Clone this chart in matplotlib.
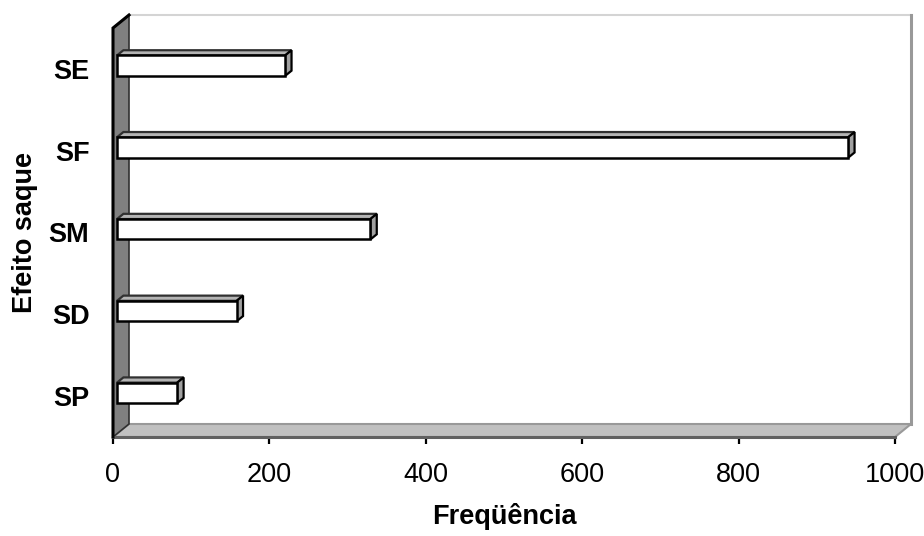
import matplotlib
matplotlib.use("Agg")
from matplotlib import pyplot as plt
from matplotlib.patches import Polygon

# dados
categorias = ["SP", "SD", "SM", "SF", "SE"]
frequencias = [77, 153, 324, 935, 215]
xticks = [0, 200, 400, 600, 800, 1000]

W, H = 924, 536
fig = plt.figure(figsize=(W / 100, H / 100), dpi=100)
# area do grafico em pixels: frente do piso y=437, topo da parede y=28
ax = fig.add_axes([113 / W, (H - 437) / H, 782 / W, 409 / H])
ax.set_xlim(0, 1000)
ax.set_ylim(-0.5, 4.5)
for s in ax.spines.values():
    s.set_visible(False)
ax.patch.set_alpha(0)

# conversao pixel -> unidades de dados
ux = 1000 / 782
uy = 5 / 409
DX, DY = 16 * ux, 13 * uy        # profundidade do "3D"
x0, x1 = 0, 1000
y0, y1 = -0.5, 4.5

def poly(pts, fc, ec, lw, z):
    ax.add_patch(Polygon(pts, closed=True, fc=fc, ec=ec, lw=lw,
                         clip_on=False, zorder=z, joinstyle="miter"))

# parede do fundo
ax.plot([x0 + DX, x1 + DX], [y1 + DY, y1 + DY], color="#d4d4d4", lw=1.5,
        clip_on=False, zorder=1)
ax.plot([x1 + DX, x1 + DX], [y0 + DY, y1 + DY], color="#999999", lw=2.2,
        clip_on=False, zorder=1)

# piso
poly([(x0, y0), (x1, y0), (x1 + DX, y0 + DY), (x0 + DX, y0 + DY)],
     "#c0c0c0", "#999999", 1.5, 2)
ax.plot([x0, x1], [y0, y0], color="#606060", lw=2.2, clip_on=False, zorder=3)

# parede lateral
poly([(x0, y0), (x0, y1), (x0 + DX, y1 + DY), (x0 + DX, y0 + DY)],
     "#808080", "#303030", 1.2, 2)
ax.plot([x0, x0, x0 + DX], [y0, y1, y1 + DY], color="black", lw=2.2,
        clip_on=False, zorder=3, solid_joinstyle="miter")

# barras
d0, d1 = 0.25, 0.65
h = 0.25
for i, v in enumerate(frequencias):
    fx = x0 + d0 * DX
    fy = i + d0 * DY - h / 2
    bx = (d1 - d0) * DX
    by = (d1 - d0) * DY
    # topo
    poly([(fx, fy + h), (fx + v, fy + h), (fx + v + bx, fy + h + by),
          (fx + bx, fy + h + by)], "#b4b4b4", "#303030", 1.6, 4)
    # lado
    poly([(fx + v, fy), (fx + v + bx, fy + by), (fx + v + bx, fy + h + by),
          (fx + v, fy + h)], "#a0a0a0", "black", 1.6, 4)
    # frente
    poly([(fx, fy), (fx + v, fy), (fx + v, fy + h), (fx, fy + h)],
         "white", "black", 1.8, 5)

ax.set_xticks(xticks)
ax.set_xticklabels([str(t) for t in xticks], fontsize=19.5,
                   family="Liberation Sans")
ax.tick_params(axis="x", direction="out", length=5, width=1.6, pad=13,
               color="black")
ax.set_yticks(range(len(categorias)))
ax.set_yticklabels(categorias, fontsize=19.5, fontweight="bold",
                   family="Liberation Sans")
ax.tick_params(axis="y", length=0, pad=17)

ax.set_xlabel("Freqüência", fontsize=19.5, fontweight="bold",
              family="Liberation Sans", labelpad=11)
ax.set_ylabel("Efeito saque", fontsize=19.5, fontweight="bold",
              family="Liberation Sans", labelpad=8)

fig.savefig("out.png", dpi=100)
